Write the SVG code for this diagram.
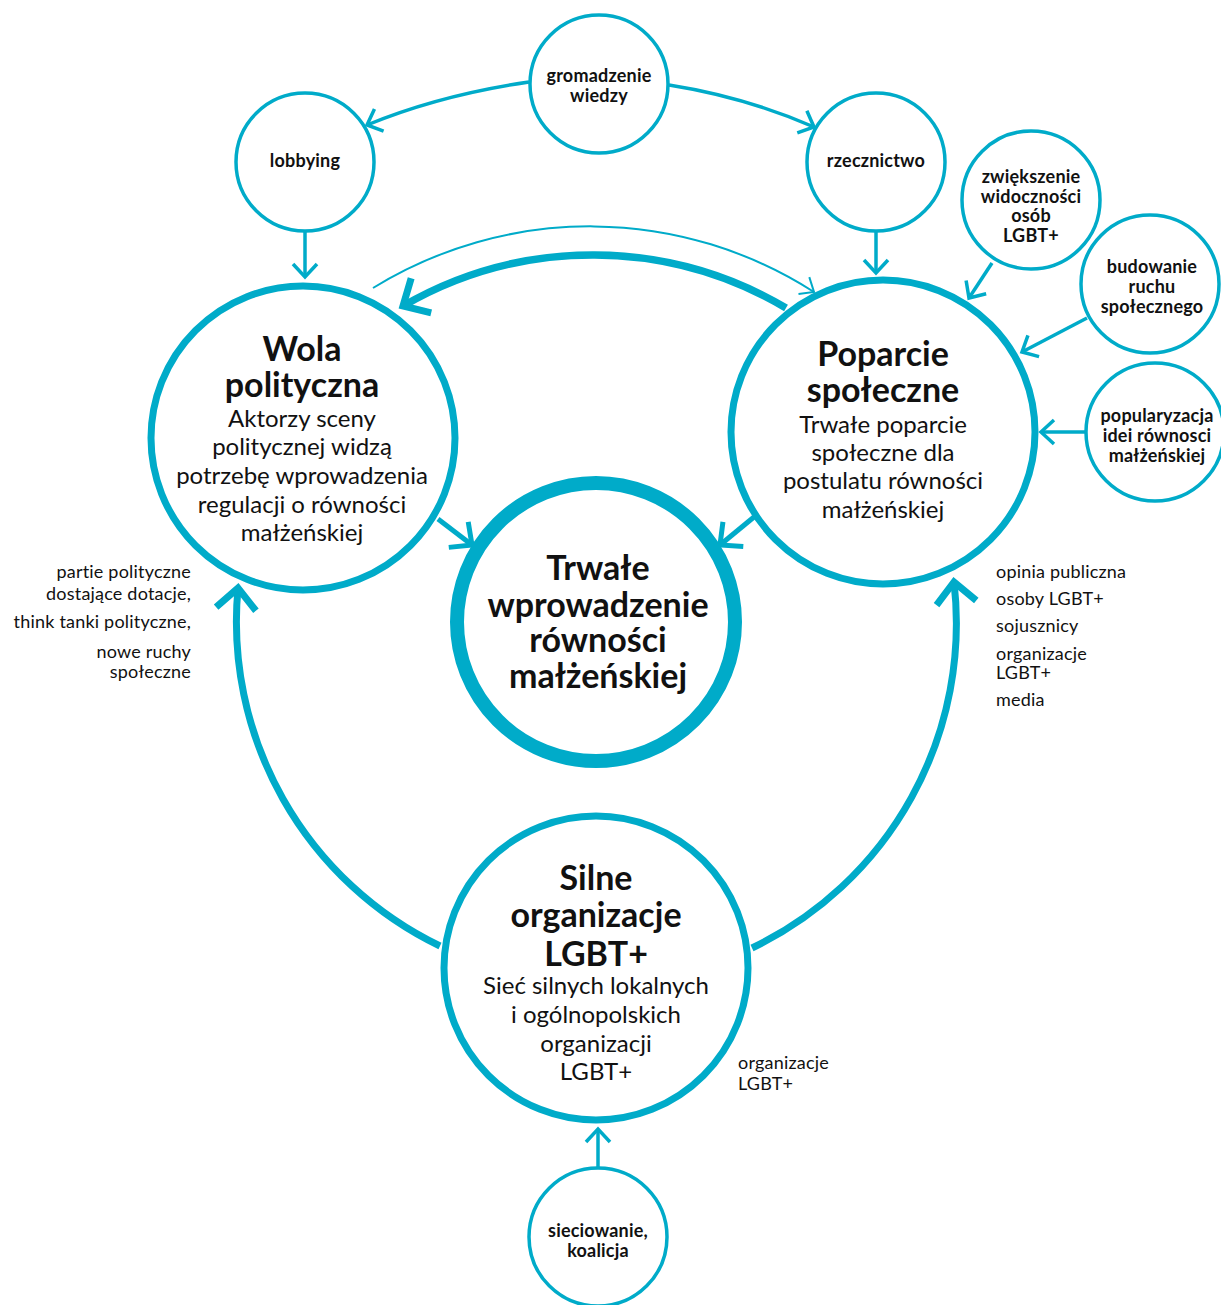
<svg xmlns="http://www.w3.org/2000/svg" width="1221" height="1305" viewBox="0 0 1221 1305">
<style>
.c{fill:#fff;stroke:#00abc9}
.sm{stroke-width:3.5}
.bg{stroke-width:7}
.hg{stroke-width:14}
.ln{fill:none;stroke:#00abc9}
text{font-family:Lato,"Open Sans","Liberation Sans",sans-serif;fill:#111;text-anchor:middle}
.tb{font-weight:bold;font-size:18px;letter-spacing:0.2px}
.tt{font-weight:bold;font-size:34px}
.tr{font-size:24px}
.lb{font-size:18px;letter-spacing:0.2px}
.lr{text-anchor:end}
.ll{text-anchor:start}
</style>
<defs>
<marker id="aS" markerUnits="userSpaceOnUse" orient="auto" overflow="visible" refX="0" refY="0" markerWidth="1" markerHeight="1"><path d="M-13,-12 L0,0 L-13,12" fill="none" stroke="#00abc9" stroke-width="3.5"/></marker>
<marker id="aM" markerUnits="userSpaceOnUse" orient="auto" overflow="visible" refX="0" refY="0" markerWidth="1" markerHeight="1"><path d="M-17,-16 L0,0 L-17,16" fill="none" stroke="#00abc9" stroke-width="5"/></marker>
<marker id="aL" markerUnits="userSpaceOnUse" orient="auto" overflow="visible" refX="0" refY="0" markerWidth="1" markerHeight="1"><path d="M-21,-20 L0,0 L-21,20" fill="none" stroke="#00abc9" stroke-width="7"/></marker>
<marker id="aT" markerUnits="userSpaceOnUse" orient="auto" overflow="visible" refX="0" refY="0" markerWidth="1" markerHeight="1"><path d="M-12,-10 L0,0 L-12,10" fill="none" stroke="#00abc9" stroke-width="2"/></marker>
</defs>

<g id="connectors">
<path class="ln" stroke-width="3.5" d="M529,82 Q440,95 367,125" marker-end="url(#aS)"/>
<path class="ln" stroke-width="3.5" d="M669,85 Q745,97 814,127" marker-end="url(#aS)"/>
<path class="ln" stroke-width="3.5" d="M305,232 L305,277" marker-end="url(#aS)"/>
<path class="ln" stroke-width="3.5" d="M876,232 L876,273" marker-end="url(#aS)"/>
<path class="ln" stroke-width="3.5" d="M992,263 L969,298" marker-end="url(#aS)"/>
<path class="ln" stroke-width="3.5" d="M1087,318 L1022,352" marker-end="url(#aS)"/>
<path class="ln" stroke-width="3.5" d="M1086,432 L1041,432" marker-end="url(#aS)"/>
<path class="ln" stroke-width="3.5" d="M598,1167 L598,1129" marker-end="url(#aS)"/>
<path class="ln" stroke-width="5" d="M438,519 L472,545" marker-end="url(#aM)"/>
<path class="ln" stroke-width="5" d="M754,517 L720,545" marker-end="url(#aM)"/>
<path class="ln" stroke-width="2" d="M373,288 A414,414 0 0 1 814,292" marker-end="url(#aT)"/>
<path class="ln" stroke-width="7.5" d="M786,308 A379,379 0 0 0 403,306" marker-end="url(#aL)"/>
<path class="ln" stroke-width="7" d="M440,946 A360,360 0 0 1 238,588" marker-end="url(#aL)"/>
<path class="ln" stroke-width="7" d="M752,948 A360,360 0 0 0 954,582" marker-end="url(#aL)"/>
</g>

<g id="n-gromadzenie">
<circle class="c sm" cx="599" cy="84" r="69"/>
<text class="tb"><tspan x="599" y="82">gromadzenie</tspan><tspan x="599" y="102">wiedzy</tspan></text>
</g>
<g id="n-lobbying">
<circle class="c sm" cx="305" cy="162" r="69"/>
<text class="tb" x="305" y="167">lobbying</text>
</g>
<g id="n-rzecznictwo">
<circle class="c sm" cx="876" cy="162" r="69"/>
<text class="tb" x="876" y="167">rzecznictwo</text>
</g>
<g id="n-widocznosc">
<circle class="c sm" cx="1031" cy="200" r="69"/>
<text class="tb"><tspan x="1031" y="183">zwiększenie</tspan><tspan x="1031" y="203">widoczności</tspan><tspan x="1031" y="222">osób</tspan><tspan x="1031" y="242">LGBT+</tspan></text>
</g>
<g id="n-budowanie">
<circle class="c sm" cx="1150" cy="284" r="69"/>
<text class="tb"><tspan x="1152" y="273">budowanie</tspan><tspan x="1152" y="293">ruchu</tspan><tspan x="1152" y="313">społecznego</tspan></text>
</g>
<g id="n-popularyzacja">
<circle class="c sm" cx="1155" cy="432" r="69"/>
<text class="tb"><tspan x="1157" y="422">popularyzacja</tspan><tspan x="1157" y="442">idei równosci</tspan><tspan x="1157" y="462">małżeńskiej</tspan></text>
</g>
<g id="n-wola">
<circle class="c bg" cx="303" cy="438" r="152"/>
<text class="tt"><tspan x="302" y="361">Wola</tspan><tspan x="302" y="397">polityczna</tspan></text>
<text class="tr"><tspan x="302" y="427">Aktorzy sceny</tspan><tspan x="302" y="455">politycznej widzą</tspan><tspan x="302" y="484">potrzebę wprowadzenia</tspan><tspan x="302" y="513">regulacji o równości</tspan><tspan x="302" y="541">małżeńskiej</tspan></text>
</g>
<g id="n-poparcie">
<circle class="c bg" cx="883" cy="432" r="152"/>
<text class="tt"><tspan x="883" y="366">Poparcie</tspan><tspan x="883" y="402">społeczne</tspan></text>
<text class="tr"><tspan x="883" y="433">Trwałe poparcie</tspan><tspan x="883" y="461">społeczne dla</tspan><tspan x="883" y="489">postulatu równości</tspan><tspan x="883" y="518">małżeńskiej</tspan></text>
</g>
<g id="n-trwale">
<circle class="c hg" cx="596" cy="622" r="139"/>
<text class="tt"><tspan x="598" y="580">Trwałe</tspan><tspan x="598" y="617">wprowadzenie</tspan><tspan x="598" y="652">równości</tspan><tspan x="598" y="688">małżeńskiej</tspan></text>
</g>
<g id="n-silne">
<circle class="c bg" cx="596" cy="968" r="152"/>
<text class="tt"><tspan x="596" y="890">Silne</tspan><tspan x="596" y="927">organizacje</tspan><tspan x="596" y="966">LGBT+</tspan></text>
<text class="tr"><tspan x="596" y="994">Sieć silnych lokalnych</tspan><tspan x="596" y="1023">i ogólnopolskich</tspan><tspan x="596" y="1052">organizacji</tspan><tspan x="596" y="1080">LGBT+</tspan></text>
</g>
<g id="n-sieciowanie">
<circle class="c sm" cx="598" cy="1237" r="69"/>
<text class="tb"><tspan x="598" y="1237">sieciowanie,</tspan><tspan x="598" y="1257">koalicja</tspan></text>
</g>

<g id="labels-left">
<text class="lb lr"><tspan x="191" y="578">partie polityczne</tspan><tspan x="191" y="600">dostające dotacje,</tspan></text>
<text class="lb lr" x="191" y="628">think tanki polityczne,</text>
<text class="lb lr"><tspan x="191" y="658">nowe ruchy</tspan><tspan x="191" y="678">społeczne</tspan></text>
</g>
<g id="labels-right">
<text class="lb ll" x="996" y="578">opinia publiczna</text>
<text class="lb ll" x="996" y="605">osoby LGBT+</text>
<text class="lb ll" x="996" y="632">sojusznicy</text>
<text class="lb ll"><tspan x="996" y="660">organizacje</tspan><tspan x="996" y="679">LGBT+</tspan></text>
<text class="lb ll" x="996" y="706">media</text>
</g>
<g id="labels-bottom">
<text class="lb ll"><tspan x="738" y="1069">organizacje</tspan><tspan x="738" y="1090">LGBT+</tspan></text>
</g>
</svg>
